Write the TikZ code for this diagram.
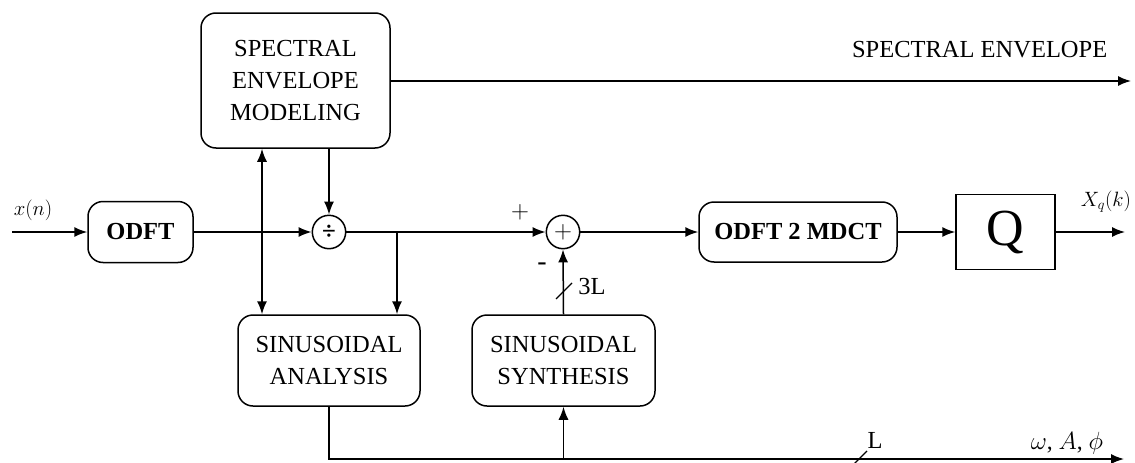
\documentclass[tikz,border=0pt]{standalone}
\usepackage{fontspec}
\setmainfont{Liberation Serif}
\usetikzlibrary{arrows.meta}
\begin{document}
\begin{tikzpicture}[x=1pt,y=-1pt,
  line width=1.5pt,
  arr/.style={-{Latex[length=13pt,width=10pt]}},
  darr/.style={{Latex[length=13pt,width=10pt]}-{Latex[length=13pt,width=10pt]}},
  rbox/.style={draw, rounded corners=15pt, inner sep=0pt, align=center,
    font=\fontsize{24.5}{32}\selectfont},
  bbox/.style={rbox, font=\fontsize{24.5}{32}\selectfont\bfseries},
  opnode/.style={draw, circle, minimum size=33.4pt, inner sep=0pt},
  txt/.style={inner sep=0pt, font=\fontsize{24.5}{32}\selectfont},
  mlab/.style={inner sep=0pt, font=\fontsize{22.5}{26}\selectfont}
]
\useasboundingbox (0,0) rectangle (1135,463);

% nodes
\node[rbox, minimum width=189pt, minimum height=135pt] (sem) at (295.5,80.5) {SPECTRAL\\ENVELOPE\\MODELING};
\node[bbox, minimum width=105pt, minimum height=61pt] (odft) at (140.5,232) {ODFT};
\node[opnode, font=\fontsize{25}{28}\selectfont\bfseries] (div) at (329,232) {÷};
\node[opnode, font=\fontsize{32}{34}\selectfont] (sum) at (563,232) {$+$};
\node[bbox, minimum width=198pt, minimum height=60pt] (o2m) at (798,232) {ODFT 2 MDCT};
\node[draw, minimum width=99pt, minimum height=75pt, inner sep=0pt,
  font=\fontsize{52}{56}\selectfont] (q) at (1005.5,232) {Q};
\node[rbox, minimum width=182pt, minimum height=91pt] (ana) at (329,360.5) {SINUSOIDAL\\ANALYSIS};
\node[rbox, minimum width=183pt, minimum height=91pt] (syn) at (563.5,360.5) {SINUSOIDAL\\SYNTHESIS};

% coordinates
\coordinate (in) at (12,232);
\coordinate (out) at (1125,232);
\coordinate (seout) at (1131,81);
\coordinate (br) at (397,232);
\coordinate (dl) at (262,232);
\coordinate (wout) at (1124,459);
\coordinate (s3a) at (556,299);
\coordinate (s3b) at (572,283);
\coordinate (sLa) at (851,467);
\coordinate (sLb) at (867,451);

% labels
\node[mlab] (xn) at (33,210) {$x(n)$};
\node[mlab] (xq) at (1106,202) {$X_q(k)$};
\node[txt, anchor=base east] (selab) at (1108,57) {SPECTRAL ENVELOPE};
\node[inner sep=0pt, font=\fontsize{31}{34}\selectfont] (plus) at (520,212) {$+$};
\node[txt, font=\fontsize{28}{30}\selectfont] (minus) at (542,267) {-};
\node[txt] (l3) at (592,287) {3L};
\node[txt] (lL) at (875,440) {L};
\node[txt, font=\fontsize{23.5}{26}\selectfont] (wap) at (1067,443) {$\omega$, $A$, $\phi$};

% connectors
\draw[arr] (in) -- (odft.west);
\draw[arr] (odft.east) -- (div.west);
\draw[arr] (div |- sem.south) -- (div.north);
\draw[arr] (div.east) -- (sum.west);
\draw[arr] (br) -- (br |- ana.north);
\draw[darr] (dl |- ana.north) -- (dl |- sem.south);
\draw[arr] (sum.east) -- (o2m.west);
\draw[arr] (o2m.east) -- (q.west);
\draw[arr] (q.east) -- (out);
\draw[arr] (sem.east |- seout) -- (seout);
\draw[arr] (syn.north) -- (sum.south);
\draw[arr] (ana.south) |- (wout);
\draw[arr] (syn.south |- wout) -- (syn.south);
\draw[line width=1.2pt] (s3a) -- (s3b);
\draw[line width=1.2pt] (sLa) -- (sLb);
\end{tikzpicture}
\end{document}
